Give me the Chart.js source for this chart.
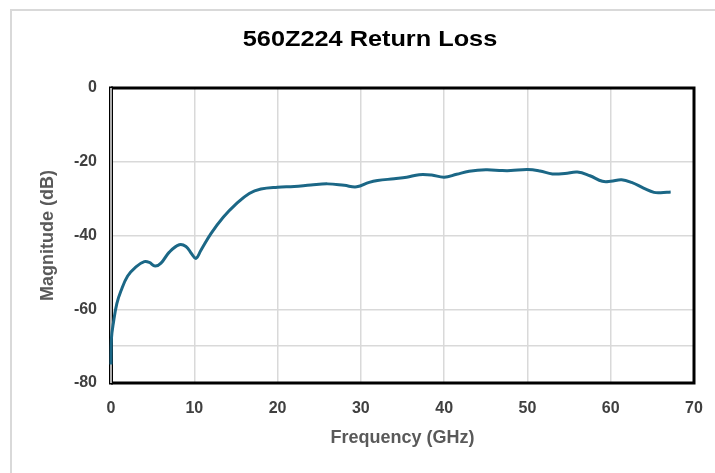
<!DOCTYPE html>
<html>
<head>
<meta charset="utf-8">
<script src="https://cdn.jsdelivr.net/npm/chart.js@4.4.0/dist/chart.umd.min.js"></script>
<style>
  html, body { margin: 0; padding: 0; background: #fff; }
  #wrap { width: 715px; height: 473px; }
</style>
</head>
<body>
<div id="wrap"><canvas id="rl"></canvas></div>
<script>
// frequency in GHz, return loss in dB
var chartTitle = '560Z224 Return Loss';
var freq = [0, 0.05, 0.3, 0.7, 1.2, 2, 3, 4, 4.6, 5.3, 6, 7, 8.2, 9, 9.7, 10.2, 10.8, 12, 13.5, 15, 16.6, 18, 20, 22, 24, 26, 28, 29.5, 31, 32, 34, 35.5, 37, 38.5, 40, 41.5, 43, 45, 47, 48, 50, 51.5, 53, 54.5, 56, 57.5, 59, 60, 61.3, 62.5, 64, 65.2, 66, 67.2];
var loss = [-75, -68, -63.5, -58.5, -55, -51, -48.5, -47.1, -47.3, -48.3, -47.5, -44.5, -42.5, -43, -45, -46.2, -44, -39.5, -35, -31.5, -28.6, -27.4, -26.9, -26.7, -26.3, -26, -26.4, -26.8, -25.6, -25.1, -24.6, -24.2, -23.5, -23.6, -24.2, -23.4, -22.6, -22.2, -22.4, -22.4, -22.1, -22.5, -23.3, -23.2, -22.8, -23.8, -25.3, -25.3, -24.9, -25.6, -27.2, -28.3, -28.4, -28.2];
var yLabelled = [0, -20, -40, -60, -80];
var yGrid = [-20, -40, -60, -70];

var pts = [];
for (var i = 0; i < freq.length; i++) {
    pts.push({x: freq[i], y: loss[i]});
}

var frame = {
    id: 'frame',
    beforeDraw: function(chart) {
        var c = chart.ctx;
        c.save();
        c.strokeStyle = '#d9d9d9';
        c.lineWidth = 2;
        c.strokeRect(11, 10, 800, 600);
        // title, a bit wider than the plain font like in the original
        c.fillStyle = '#000';
        c.font = 'bold 22px "Liberation Sans", Arial, sans-serif';
        c.textAlign = 'center';
        c.textBaseline = 'alphabetic';
        c.translate(370, 46);
        c.scale(1.15, 1);
        c.fillText(chartTitle, 0, 0);
        c.restore();
    },
    beforeDatasetsDraw: function(chart) {
        var a = chart.chartArea, c = chart.ctx;
        c.save();
        c.strokeStyle = '#000';
        c.lineWidth = 3;
        c.beginPath();
        c.moveTo(a.left, a.top);
        c.lineTo(a.right, a.top);
        c.lineTo(a.right, a.bottom);
        c.lineTo(a.left, a.bottom);
        c.stroke();
        c.lineWidth = 4;
        c.beginPath();
        c.moveTo(a.left, a.top - 1.5);
        c.lineTo(a.left, a.bottom + 1.5);
        c.stroke();
        c.strokeStyle = '#b0b0b0';
        c.lineWidth = 2;
        c.beginPath();
        c.moveTo(a.left, a.top);
        c.lineTo(a.left, a.bottom);
        c.stroke();
        c.restore();
    }
};

new Chart(document.getElementById('rl'), {
    type: 'scatter',
    data: {
        datasets: [{
            label: 'Return Loss',
            data: pts,
            showLine: true,
            borderColor: '#1b6786',
            borderWidth: 3,
            pointRadius: 0,
            tension: 0.4,
            clip: 6
        }]
    },
    options: {
        responsive: true,
        maintainAspectRatio: false,
        animation: false,
        layout: { padding: { left: 0, right: 21, top: 88, bottom: 0 } },
        plugins: {
            legend: { display: false },
            tooltip: { enabled: false },
            title: { display: false }
        },
        scales: {
            x: {
                type: 'linear',
                min: 0, max: 70,
                border: { display: false },
                grid: {
                    drawTicks: false,
                    lineWidth: 1.5,
                    color: function(ctx) {
                        var v = ctx.tick.value;
                        return (v === 0 || v === 70) ? 'rgba(0,0,0,0)' : '#d9d9d9';
                    }
                },
                ticks: {
                    stepSize: 10,
                    padding: 16,
                    color: '#404040',
                    font: { family: 'Liberation Sans, Arial, sans-serif', size: 16, weight: 'bold' }
                },
                title: {
                    display: true,
                    text: 'Frequency (GHz)',
                    color: '#595959',
                    padding: { top: 0, bottom: 24 },
                    font: { family: 'Liberation Sans, Arial, sans-serif', size: 18, weight: 'bold' }
                },
                afterFit: function(s) {
                    s.height = 90;
                    s.paddingLeft = 0;
                    s.paddingRight = 0;
                }
            },
            y: {
                min: -80, max: 0,
                border: { display: false },
                grid: {
                    drawTicks: false,
                    lineWidth: 1.5,
                    color: function(ctx) {
                        return yGrid.indexOf(ctx.tick.value) >= 0 ? '#d9d9d9' : 'rgba(0,0,0,0)';
                    }
                },
                ticks: {
                    stepSize: 10,
                    padding: 14,
                    color: '#404040',
                    font: { family: 'Liberation Sans, Arial, sans-serif', size: 16, weight: 'bold' },
                    callback: function(v) {
                        return yLabelled.indexOf(v) >= 0 ? v : '';
                    }
                },
                title: {
                    display: true,
                    text: 'Magnitude (dB)',
                    color: '#595959',
                    padding: { top: 37, bottom: 0 },
                    font: { family: 'Liberation Sans, Arial, sans-serif', size: 18, weight: 'bold' }
                },
                afterFit: function(s) {
                    s.width = 111;
                    s.paddingTop = 0;
                    s.paddingBottom = 0;
                }
            }
        }
    },
    plugins: [frame]
});
</script>
</body>
</html>
